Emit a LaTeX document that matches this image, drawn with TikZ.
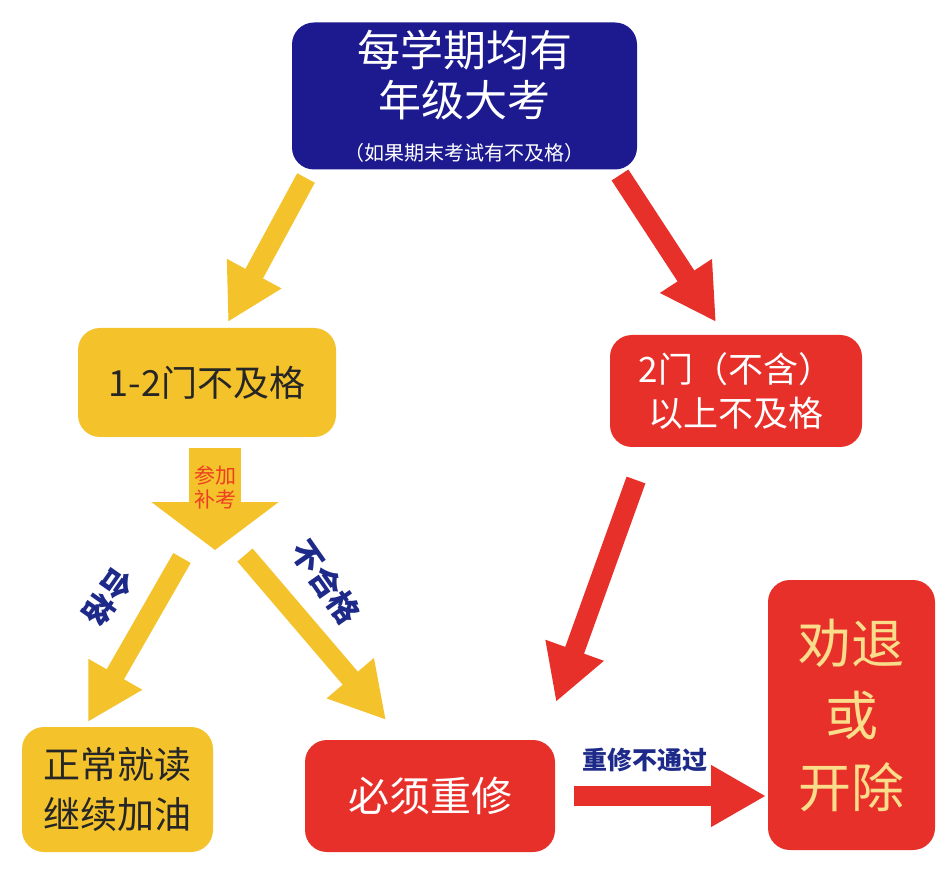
\documentclass[tikz,border=0pt]{standalone}
\usepackage{fontspec}
\newfontfamily\cjk{Noto Sans CJK SC}
\usetikzlibrary{arrows.meta}
\definecolor{dblue}{HTML}{1C1A8E}
\definecolor{yel}{HTML}{F4C22B}
\definecolor{rd}{HTML}{E8302A}
\definecolor{lblue}{HTML}{1E2A8A}
\begin{document}
\begin{tikzpicture}[x=1pt,y=-1pt,
  box/.style={rounded corners=22pt,inner sep=0pt,align=center,font=\cjk},
  fat/.style={line width=20pt,-{Triangle[length=55pt,width=58pt]}},
  lbl/.style={font=\cjk\bfseries\fontsize{31}{34}\selectfont,text=lblue,inner sep=0pt}]
\useasboundingbox (0,0) rectangle (948,882);
\fill[white] (0,0) rectangle (948,882);
\node[box,fill=dblue,text=white,minimum width=345pt,minimum height=147pt,font=\cjk\fontsize{43}{50}\selectfont] (top) at (464.5,96)
 {每学期均有\\年级大考\\[-6pt]{\fontsize{20}{24}\selectfont （如果期末考试有不及格）}};
\node[box,fill=yel,text=black!85,minimum width=258pt,minimum height=109pt,font=\cjk\fontsize{36}{40}\selectfont] (y1) at (207,382.5) {1-2门不及格};
\node[box,fill=rd,text=white,minimum width=252pt,minimum height=112pt,font=\cjk\fontsize{35}{44}\selectfont] (r1) at (736,391) {2门（不含）\\以上不及格};
\node[box,fill=yel,text=black!85,minimum width=191pt,minimum height=125pt,font=\cjk\fontsize{37}{50}\selectfont] (y2) at (117.5,789.5) {正常就读\\继续加油};
\node[box,fill=rd,text=white,minimum width=250pt,minimum height=112pt,font=\cjk\fontsize{41}{46}\selectfont] (r2) at (430,796) {必须重修};
\node[box,fill=rd,text=yel!55!white,minimum width=167pt,minimum height=270pt,font=\cjk\fontsize{53}{72}\selectfont] (r3) at (851.5,715) {劝退\\或\\开除};
\coordinate (a1s) at (306,178); \coordinate (a1e) at (228,322);
\coordinate (a2s) at (620,175); \coordinate (a2e) at (716,322);
\coordinate (a3s) at (636,480); \coordinate (a3e) at (556,702);
\coordinate (a4s) at (215,448); \coordinate (a4e) at (215,550);
\coordinate (a5s) at (182,558); \coordinate (a5e) at (88,722);
\coordinate (a6s) at (245,555); \coordinate (a6e) at (386,720);
\coordinate (a7s) at (574,796); \coordinate (a7e) at (766,796);
\draw[fat,yel] (a1s) -- (a1e);
\draw[fat,rd] (a2s) -- (a2e);
\draw[fat,rd] (a3s) -- (a3e);
\draw[yel,line width=52pt,-{Triangle[length=48pt,width=125pt]}] (a4s) -- (a4e);
\draw[fat,yel] (a5s) -- (a5e);
\draw[fat,yel] (a6s) -- (a6e);
\draw[fat,rd] (a7s) -- (a7e);
\node[font=\cjk\fontsize{21}{24}\selectfont,text=rd!80!orange,align=center,inner sep=0pt] (t4) at (215,487) {参加\\补考};
\node[lbl,rotate=235] (t5) at (108,597) {合格};
\node[lbl,rotate=-55] (t6) at (326,582) {不合格};
\node[lbl,font=\cjk\bfseries\fontsize{25}{28}\selectfont] (t7) at (645,760) {重修不通过};
\end{tikzpicture}
\end{document}
